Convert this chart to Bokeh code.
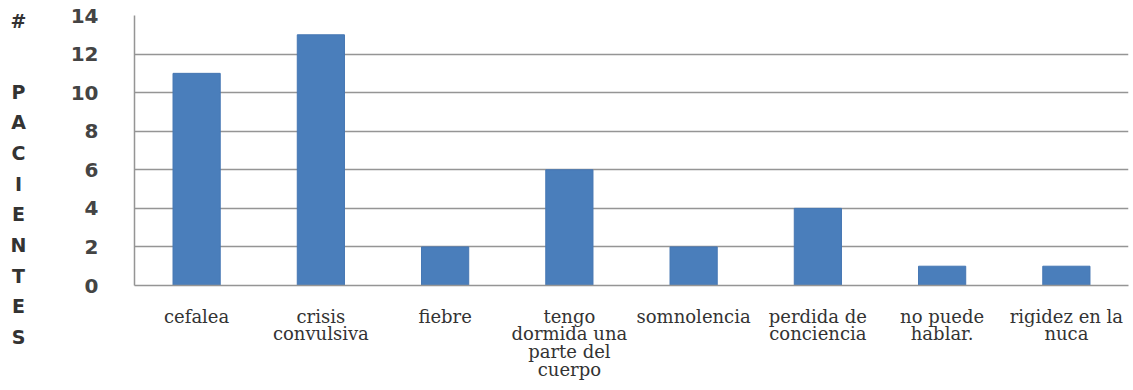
from bokeh.plotting import figure
from bokeh.models import Range1d, FactorRange, ColumnDataSource
from bokeh.layouts import row
from bokeh.core.properties import value
from bokeh.embed import file_html
from bokeh.resources import INLINE

categories = ["cefalea", "crisis\nconvulsiva", "fiebre",
              "tengo\ndormida una\nparte del\ncuerpo", "somnolencia",
              "perdida de\nconciencia", "no puede\nhablar.", "rigidez en la\nnuca"]
pacientes = [11, 13, 2, 6, 2, 4, 1, 1]
y_ticks = [0, 2, 4, 6, 8, 10, 12, 14]
title_letters = ["#", "P", "A", "C", "I", "E", "N", "T", "E", "S"]

TW = 40  # width of the strip holding the vertical axis title

src = ColumnDataSource(dict(cat=categories, val=pacientes))

p = figure(width=1133 - TW, height=390, x_range=FactorRange(*categories, range_padding=0),
           y_range=Range1d(0, 14), output_backend="svg", toolbar_location=None,
           min_border_left=134 - TW, min_border_right=5, min_border_top=15, min_border_bottom=105)
p.outline_line_color = None

p.vbar(x="cat", top="val", width=0.38, source=src, fill_color="#4a7ebb", line_color="#4677b3")

p.xgrid.grid_line_color = None
p.ygrid.grid_line_color = "#959595"
p.ygrid.grid_line_width = 1.5
p.yaxis.ticker = y_ticks
p.yaxis.axis_line_color = "#959595"
p.yaxis.axis_line_width = 1.5
p.yaxis.major_tick_line_color = None
p.yaxis.minor_tick_line_color = None
p.yaxis.major_label_standoff = 30
p.yaxis.major_label_text_font = "DejaVu Sans"
p.yaxis.major_label_text_font_style = "bold"
p.yaxis.major_label_text_font_size = "20px"
p.yaxis.major_label_text_color = "#444444"

p.xaxis.axis_line_color = "#959595"
p.xaxis.axis_line_width = 1.5
p.xaxis.major_tick_line_color = None
p.xaxis.minor_tick_line_color = None
p.xaxis.major_label_standoff = 14
p.xaxis.major_label_text_font = "DejaVu Serif"
p.xaxis.major_label_text_font_size = "18px"
p.xaxis.major_label_text_line_height = 0.85
p.xaxis.major_label_text_color = "#333333"

# strip with the vertical axis title, one letter per row (y = pixels from top)
t = figure(width=TW, height=390, x_range=Range1d(0, TW), y_range=Range1d(390, 0),
           output_backend="svg", toolbar_location=None, min_border=0)
t.axis.visible = False
t.grid.visible = False
t.outline_line_color = None
for fig in (t, p):
    try:
        fig.frame_align = False
    except Exception:
        pass
letter_y = [20] + [91 + 30.7 * i for i in range(len(title_letters) - 1)]
t.text(x=[18] * len(title_letters), y=letter_y, text=title_letters,
       text_align="center", text_baseline="middle", text_font=value("DejaVu Sans"),
       text_font_style="bold", text_font_size="19px", text_color="#333333")

layout = row(t, p, spacing=0)
open("out.html", "w").write(file_html(layout, INLINE))
